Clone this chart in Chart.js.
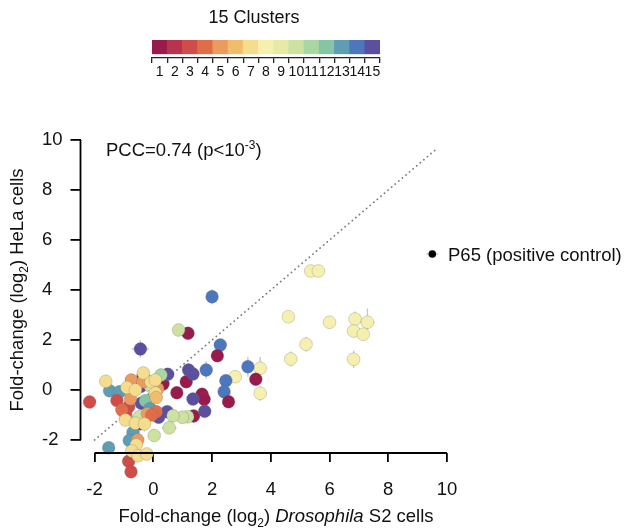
<!DOCTYPE html>
<html lang="en">
<head>
    <meta charset="UTF-8">
    <title>HeLa vs S2 fold-change</title>
    <script src="https://cdn.jsdelivr.net/npm/chart.js"></script>
    <style>
        body {
            margin: 0;
            background: #fff;
        }
        #wrap {
            position: relative;
            width: 626px;
            height: 530px;
        }
        #wrap canvas {
            position: absolute;
            left: 0;
            top: 0;
        }
    </style>
</head>
<body>

<div id="wrap">
    <canvas id="scatterChart" width="626" height="530"></canvas>
    <canvas id="clusterBar" width="626" height="90"></canvas>
</div>

<script>
    // fold-change per construct (log2), S2 on x, HeLa on y, with cluster id and error
    const xs = [5.36, 5.62, 4.60, 6.00, 6.87, 7.29, 6.82, 7.15, 5.20, 4.68, 6.82, 3.64, 3.64, 2.79,
                2.00, 2.28, 3.22, 1.80, 2.47, 2.41,
                1.18, 2.18, 3.49, 2.56, 1.12, 0.80, 1.66, 1.73, 1.37, 0.33, -0.35, -0.44,
                -0.44, 1.20, 1.35, 1.35, 1.75, 0.49, 0.47, 0.18, -0.42, -0.41,
                0.86, 1.17, 0.99, 0.67, 0.54, 0.03, -0.47, 0.26, -0.10, -0.04,
                -0.27, -0.10, -0.92,
                -1.49, -1.15, -0.12, -0.69, -0.82, -1.52,
                -2.17, -1.24, -0.84, -0.95, -0.84, -0.76,
                -1.07, -0.75, -0.36, -0.78, 0.10, -0.53, 0.15, -0.20, -0.05,
                -1.62, -0.90, -0.61, -0.08, -0.95, -0.61, -0.30, -0.58, -0.73, -0.52, -0.22, 0.07, -0.34, 0.07, 0.10];
    const ys = [4.76, 4.76, 2.93, 2.71, 2.84, 2.71, 2.36, 2.23, 1.83, 1.24, 1.23, 0.87, -0.13, 0.53,
                3.73, 1.80, 0.93, 0.80, 0.37, -0.07,
                2.27, 1.37, 0.43, -0.47, 0.33, -0.11, -0.17, -0.37, -1.04, 0.24, 0.55, -1.35,
                1.64, 0.80, 0.64, -0.36, -0.85, 0.63, -0.87, -1.09, 0.15, -0.53,
                2.40, -1.07, -1.09, -1.03, -1.51, -1.82, -1.07, 0.60, 0.15, 0.20,
                -0.43, -0.77, -1.07,
                -0.03, -0.07, -0.75, -1.69, -2.02, -2.31,
                -0.48, -0.42, -0.67, -0.93, -2.85, -3.27,
                -0.80, 0.40, 0.33, -0.35, -0.87, -2.00, 0.05, -0.95, -1.00,
                0.35, 0.10, 0.00, 0.33, -1.20, -1.33, -1.36, -2.20, -2.44, -2.63, -2.56, -0.12, 0.68, 0.40, -0.30];
    const clusters = [8, 8, 8, 8, 8, 8, 8, 8, 8, 8, 8, 8, 8, 8,
                      14, 14, 14, 14, 14, 14,
                      1, 1, 1, 1, 1, 1, 1, 1, 1, 1, 1, 1,
                      15, 15, 15, 15, 15, 15, 15, 15, 15, 15,
                      10, 10, 10, 10, 10, 10, 10, 11, 10, 9,
                      12, 12, 12,
                      13, 13, 13, 13, 13, 13,
                      3, 3, 3, 3, 3, 3,
                      4, 5, 5, 5, 4, 5, 5, 5, 4,
                      7, 7, 7, 7, 7, 7, 7, 7, 7, 7, 7, 7, 7, 7, 6];
    const xErr = [0.10, 0.10, 0.05, 0.05, 0.05, 0.25, 0.05, 0.05, 0.05, 0.15, 0.05, 0.05, 0.05, 0.05,
                  0.05, 0.05, 0.05, 0.05, 0.05, 0.05,
                  0.05, 0.05, 0.05, 0.05, 0.05, 0.05, 0.05, 0.05, 0.05, 0.05, 0.05, 0.05,
                  0.30, 0.05, 0.05, 0.05, 0.05, 0.05, 0.10, 0.05, 0.05, 0.05,
                  0.05, 0.05, 0.05, 0.10, 0.25, 0.05, 0.05, 0.05, 0.05, 0.05,
                  0.05, 0.10, 0.05,
                  0.05, 0.05, 0.05, 0.05, 0.05, 0.05,
                  0.05, 0.05, 0.05, 0.05, 0.05, 0.05,
                  0.05, 0.05, 0.05, 0.10, 0.05, 0.05, 0.05, 0.05, 0.05,
                  0.05, 0.05, 0.05, 0.05, 0.05, 0.05, 0.05, 0.05, 0.05, 0.05, 0.05, 0.05, 0.05, 0.05, 0.05];
    const yErr = [0.20, 0.20, 0.05, 0.05, 0.30, 0.55, 0.25, 0.05, 0.30, 0.30, 0.35, 0.45, 0.30, 0.05,
                  0.30, 0.10, 0.40, 0.35, 0.15, 0.10,
                  0.05, 0.20, 0.05, 0.05, 0.25, 0.05, 0.10, 0.10, 0.05, 0.05, 0.20, 0.10,
                  0.35, 0.10, 0.10, 0.05, 0.15, 0.05, 0.10, 0.05, 0.05, 0.05,
                  0.05, 0.05, 0.10, 0.10, 0.10, 0.05, 0.05, 0.05, 0.05, 0.05,
                  0.05, 0.05, 0.05,
                  0.05, 0.05, 0.05, 0.10, 0.05, 0.05,
                  0.05, 0.05, 0.05, 0.05, 0.05, 0.05,
                  0.05, 0.05, 0.05, 0.05, 0.05, 0.05, 0.05, 0.05, 0.05,
                  0.05, 0.05, 0.05, 0.05, 0.05, 0.30, 0.30, 0.05, 0.05, 0.05, 0.10, 0.05, 0.05, 0.05, 0.05];

    // positive control
    const p65X = [9.5];
    const p65Y = [5.44];

    const xTicks = [-2, 0, 2, 4, 6, 8, 10];
    const yTicks = [-2, 0, 2, 4, 6, 8, 10];
    const identityLine = [-2, 9.6];

    const clusterLabels = ['1', '2', '3', '4', '5', '6', '7', '8', '9', '10', '11', '12', '13', '14', '15'];
    const cellHeights = [1, 1, 1, 1, 1, 1, 1, 1, 1, 1, 1, 1, 1, 1, 1];

    const palette = ['#981b4b', '#b8344c', '#cf4c48', '#df6d4a', '#ea9b5d', '#f1bd6d', '#f5dd8e',
                     '#f6f0ae', '#e5eba7', '#cde1a1', '#a9d6a2', '#86c5a4', '#5f9db5', '#4c76bd', '#5b4f9f'];

    const FONT = "'Liberation Sans', Arial, sans-serif";
    const FS = 18.5;
    const X_AXIS_AT = -2.52;   // the x axis sits a little under y = -2

    // draw a run of text pieces (normal / italic / sub / sup) starting at x
    function drawRich(ctx, parts, x, y, size) {
        let cx = x;
        parts.forEach(p => {
            const s = p.small ? Math.round(size * 0.65) : size;
            ctx.font = (p.italic ? 'italic ' : '') + s + 'px ' + FONT;
            let dy = 0;
            if (p.sub) dy = size * 0.28;
            if (p.sup) dy = -size * 0.38;
            ctx.fillText(p.t, cx, y + dy);
            cx += ctx.measureText(p.t).width;
        });
        return cx - x;
    }

    function richWidth(ctx, parts, size) {
        let w = 0;
        parts.forEach(p => {
            const s = p.small ? Math.round(size * 0.65) : size;
            ctx.font = (p.italic ? 'italic ' : '') + s + 'px ' + FONT;
            w += ctx.measureText(p.t).width;
        });
        return w;
    }

    const xTitle = [
        { t: 'Fold-change (log' }, { t: '2', sub: true, small: true }, { t: ') ' },
        { t: 'Drosophila', italic: true }, { t: ' S2 cells' }
    ];
    const yTitle = [
        { t: 'Fold-change (log' }, { t: '2', sub: true, small: true }, { t: ') HeLa cells' }
    ];
    const pccText = [
        { t: 'PCC=0.74 (p<10' }, { t: '-3', sup: true, small: true }, { t: ')' }
    ];

    // gray cross-shaped error bars under each point
    const errorBars = {
        id: 'errorBars',
        beforeDatasetDraw(chart, args) {
            if (args.index !== 1) return;
            const ctx = chart.ctx;
            const sx = chart.scales.x, sy = chart.scales.y;
            ctx.save();
            ctx.strokeStyle = '#c9c9c9';
            ctx.lineWidth = 1.4;
            xs.forEach((x, i) => {
                const y = ys[i];
                const px = sx.getPixelForValue(x), py = sy.getPixelForValue(y);
                ctx.beginPath();
                ctx.moveTo(sx.getPixelForValue(x - xErr[i]), py);
                ctx.lineTo(sx.getPixelForValue(x + xErr[i]), py);
                ctx.moveTo(px, sy.getPixelForValue(y - yErr[i]));
                ctx.lineTo(px, sy.getPixelForValue(y + yErr[i]));
                ctx.stroke();
            });
            // P65 bar
            const qy = sy.getPixelForValue(p65Y[0]);
            ctx.beginPath();
            ctx.moveTo(sx.getPixelForValue(p65X[0] - 0.2), qy);
            ctx.lineTo(sx.getPixelForValue(p65X[0] + 0.2), qy);
            ctx.stroke();
            ctx.restore();
        }
    };

    // axis lines spanning the tick range, titles and annotations
    const decorations = {
        id: 'decorations',
        afterDraw(chart) {
            const ctx = chart.ctx;
            const sx = chart.scales.x, sy = chart.scales.y;
            const area = chart.chartArea;
            const axisY = sy.getPixelForValue(X_AXIS_AT);
            ctx.save();
            ctx.strokeStyle = '#000';
            ctx.lineWidth = 1.8;
            ctx.beginPath();
            ctx.moveTo(area.left, sy.getPixelForValue(yTicks[0]));
            ctx.lineTo(area.left, sy.getPixelForValue(yTicks[yTicks.length - 1]));
            ctx.moveTo(sx.getPixelForValue(xTicks[0]), axisY);
            ctx.lineTo(sx.getPixelForValue(xTicks[xTicks.length - 1]), axisY);
            ctx.stroke();

            ctx.fillStyle = '#111';
            ctx.textBaseline = 'alphabetic';
            ctx.textAlign = 'left';

            // x title
            const wx = richWidth(ctx, xTitle, FS);
            drawRich(ctx, xTitle, 276 - wx / 2, 522, FS);

            // y title, rotated
            const wy = richWidth(ctx, yTitle, FS);
            ctx.save();
            ctx.translate(23, 290);
            ctx.rotate(-Math.PI / 2);
            drawRich(ctx, yTitle, -wy / 2, 0, FS);
            ctx.restore();

            // correlation
            drawRich(ctx, pccText, 106, 156, FS);

            // positive control label
            ctx.font = FS + 'px ' + FONT;
            ctx.fillText('P65 (positive control)', 448, sy.getPixelForValue(p65Y[0]) + 6.5);
            ctx.restore();
        }
    };

    const pointColors = clusters.map(c => palette[c - 1]);

    new Chart(document.getElementById('scatterChart'), {
        type: 'scatter',
        data: {
            datasets: [
                {
                    data: identityLine.map(v => ({ x: v, y: v })),
                    showLine: true,
                    borderColor: '#7a7a7a',
                    borderWidth: 1.8,
                    borderDash: [0.1, 4.6],
                    borderCapStyle: 'round',
                    pointRadius: 0,
                    clip: false,
                    order: 3
                },
                {
                    data: xs.map((x, i) => ({ x: x, y: ys[i] })),
                    backgroundColor: pointColors,
                    borderColor: 'rgba(110, 110, 110, 0.35)',
                    borderWidth: 0.8,
                    pointRadius: 6.4,
                    clip: false,
                    order: 2
                },
                {
                    data: p65X.map((x, i) => ({ x: x, y: p65Y[i] })),
                    backgroundColor: '#000',
                    borderColor: '#000',
                    borderWidth: 0,
                    pointRadius: 3.8,
                    clip: false,
                    order: 1
                }
            ]
        },
        options: {
            responsive: false,
            animation: false,
            devicePixelRatio: 1,
            layout: { padding: { left: 42, top: 140, right: 179, bottom: 50 } },
            plugins: {
                legend: { display: false },
                tooltip: { enabled: false }
            },
            scales: {
                x: {
                    type: 'linear',
                    position: { y: X_AXIS_AT },
                    min: -2.48,
                    max: 10,
                    afterBuildTicks: axis => { axis.ticks = xTicks.map(v => ({ value: v })); },
                    border: { display: false },
                    grid: { drawOnChartArea: false, drawTicks: true, tickLength: 9, color: '#000', lineWidth: 1.8 },
                    ticks: { color: '#111', font: { family: FONT, size: FS }, padding: 17, maxRotation: 0 }
                },
                y: {
                    type: 'linear',
                    position: 'left',
                    min: -3.6,
                    max: 10,
                    afterBuildTicks: axis => { axis.ticks = yTicks.map(v => ({ value: v })); },
                    afterFit: axis => { axis.width = 38.5; },
                    border: { display: false },
                    grid: { drawOnChartArea: false, drawTicks: true, tickLength: 10, color: '#000', lineWidth: 1.8 },
                    ticks: { color: '#111', font: { family: FONT, size: FS }, padding: 8, crossAlign: 'far' }
                }
            }
        },
        plugins: [errorBars, decorations]
    });

    // cluster colour key
    const keyTitle = {
        id: 'keyTitle',
        afterDraw(chart) {
            const ctx = chart.ctx;
            ctx.save();
            ctx.fillStyle = '#111';
            ctx.font = '18px ' + FONT;
            ctx.textAlign = 'center';
            ctx.textBaseline = 'alphabetic';
            ctx.fillText('15 Clusters', 254, 23);
            ctx.restore();
        }
    };

    new Chart(document.getElementById('clusterBar'), {
        type: 'bar',
        data: {
            labels: clusterLabels,
            datasets: [{
                data: cellHeights,
                backgroundColor: palette,
                borderWidth: 0,
                barPercentage: 1,
                categoryPercentage: 1
            }]
        },
        options: {
            responsive: false,
            animation: false,
            devicePixelRatio: 1,
            layout: { padding: { left: 152, right: 246, top: 40, bottom: 0 } },
            plugins: {
                legend: { display: false },
                tooltip: { enabled: false }
            },
            scales: {
                x: {
                    afterFit: axis => { axis.height = 32; },
                    border: { display: true, color: '#222', width: 1.3 },
                    grid: { drawOnChartArea: false, tickLength: 5, color: '#222', lineWidth: 1.3 },
                    ticks: { color: '#111', font: { family: FONT, size: 14 }, padding: 1, autoSkip: false, maxRotation: 0 }
                },
                y: {
                    display: false,
                    min: -0.3,
                    max: 1
                }
            }
        },
        plugins: [keyTitle]
    });
</script>

</body>
</html>
